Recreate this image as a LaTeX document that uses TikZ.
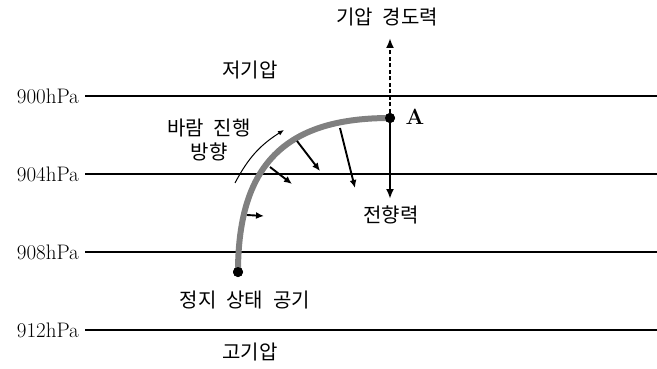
\documentclass[tikz,border=0pt]{standalone}
\usepackage{fontspec}
\newfontfamily\kr[WordSpace=2.2]{Noto Sans CJK KR}
\usetikzlibrary{arrows.meta}

\begin{document}
\begin{tikzpicture}[x=1pt, y=-1pt, >={Latex[length=8pt,width=7pt]},
	every node/.style={font=\kr\fontsize{20}{24}\selectfont},
	plabel/.style={font=\fontsize{21}{24}\selectfont, anchor=east, inner sep=0pt},
	isobar/.style={line width=1.5pt},
	force/.style={->, line width=1.9pt},
	dot/.style={circle, fill, inner sep=0pt, minimum size=10pt}]
	\useasboundingbox (0,0) rectangle (657,369);
	% isobars
	\foreach \p/\y in {900/96, 904/174, 908/252, 912/330} {
		\node[plabel] (p\p) at (79,\y) {\p hPa};
		\coordinate (e\p) at (657,\y);
		\draw[isobar] ([xshift=6pt]p\p.east) -- (e\p);
	}
	\node (low) at (250,70) {저기압};
	\node (high) at (250,352) {고기압};
	% path of the wind
	\node[dot] (rest) at (238,272) {};
	\node[dot] (A) at (390,118) {};
	\draw[line width=6pt, gray] (rest.center) .. controls (238,160) and (290,118) .. (A.center);
	\node[dot] at (rest) {};
	\node[dot] at (A) {};
	\node[font=\bfseries\fontsize{22}{24}\selectfont] (Alab) at (415,117) {A};
	\node (restlab) at (245,300) {정지 상태 공기};
	% forces at A
	\node (pgf) at (387,17) {기압 경도력};
	\coordinate (pgftip) at (390,38);
	\draw[force, line width=2.6pt, -{Latex[length=10pt,width=8pt]}, dash pattern=on 4pt off 2.5pt] (A) -- (pgftip);
	\coordinate (cortip) at (390,199);
	\draw[force, line width=2.4pt, -{Latex[length=10pt,width=8pt]}] (A) -- (cortip);
	\node (cor) at (391,215) {전향력};
	% Coriolis along the path
	\foreach \i/\sx/\sy/\ex/\ey in {1/247/215/264/216, 2/270/167/292/184, 3/297/141/320/171, 4/340/128/355/188} {
		\coordinate (s\i) at (\sx,\sy);
		\coordinate (t\i) at (\ex,\ey);
		\draw[force] (s\i) -- (t\i);
	}
	% direction of travel
	\node[align=center] (dir) at (209,140) {바람 진행\\방향};
	\coordinate (d1) at (235,183);
	\coordinate (d2) at (284,130);
	\draw[->, line width=1pt, >={Latex[length=6pt,width=5pt]}] (d1) to[bend left=15] (d2);
\end{tikzpicture}
\end{document}
